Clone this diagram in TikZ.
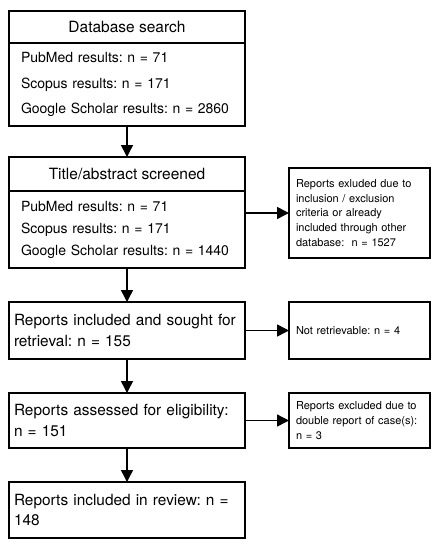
\documentclass[tikz,border=0pt]{standalone}
\usepackage{fontspec}
\setmainfont{TeX Gyre Heros}
\usetikzlibrary{arrows.meta,positioning}
\frenchspacing

\begin{document}
\begin{tikzpicture}[ >={Triangle[length=12pt,width=12pt]}, line width=1.5pt, node distance=34pt]
	\tikzstyle{every node}=[draw=black,outer sep=0pt,text=black]
	\tikzstyle{head}=[minimum width=236pt,inner sep=0pt,font=\fontsize{15.5}{18}\selectfont]
	\tikzstyle{list}=[minimum width=236pt,text width=212pt,inner xsep=12pt,inner ysep=0pt,align=left]
	\tikzstyle{stage}=[minimum width=236pt,text width=226pt,inner xsep=5pt,inner ysep=0pt,align=left,font=\fontsize{15.4}{20.7}\selectfont]
	\tikzstyle{side}=[minimum width=141pt,text width=127pt,inner xsep=7pt,inner ysep=0pt,align=left,font=\fontsize{11}{14.6}\selectfont]
	\useasboundingbox (0,0) rectangle (440pt,-550pt);
	\node[head,minimum height=32pt]  (0) at (127pt,-27pt)  {Database search};
	\node[list,minimum height=83pt,below=0pt of 0,font=\fontsize{14}{25.5}\selectfont] (0b)
		{PubMed results: n = 71\\Scopus results: n = 171\\Google Scholar results: n = 2860};
	\node[head,minimum height=34pt,below=31pt of 0b] (1) {Title/abstract screened};
	\node[list,minimum height=77pt,below=0pt of 1,font=\fontsize{14}{22}\selectfont] (1b)
		{PubMed results: n = 71\\Scopus results: n = 171\\Google Scholar results: n = 1440};
	\node[stage,minimum height=57pt,below=of 1b] (2) {Reports included and sought for\\retrieval: n = 155};
	\node[stage,minimum height=55pt,below=of 2]  (3) {Reports assessed for eligibility:\\n = 151};
	\node[stage,minimum height=56pt,below=of 3]  (4) {Reports included in review: n =\\148};
	\node[side,minimum height=90pt,right=44pt of 1b,yshift=16.5pt] (5)
		{Reports exluded due to\\inclusion / exclusion\\criteria or already\\included through other\\database:\ \ n = 1527};
	\node[side,minimum height=57pt,right=44pt of 2] (6) {Not retrievable: n = 4};
	\node[side,minimum height=55pt,right=44pt of 3] (7)
		{Reports excluded due to\\double report of case(s):\\n = 3};
	\path[->]
	(0b)	edge	(1)
	(1b)	edge	(2)
	(2)	edge	(3)
	(3)	edge	(4)
	(1b.east |- 5)	edge	(5)
	(2)	edge	(6)
	(3)	edge	(7);
\end{tikzpicture}
\end{document}
